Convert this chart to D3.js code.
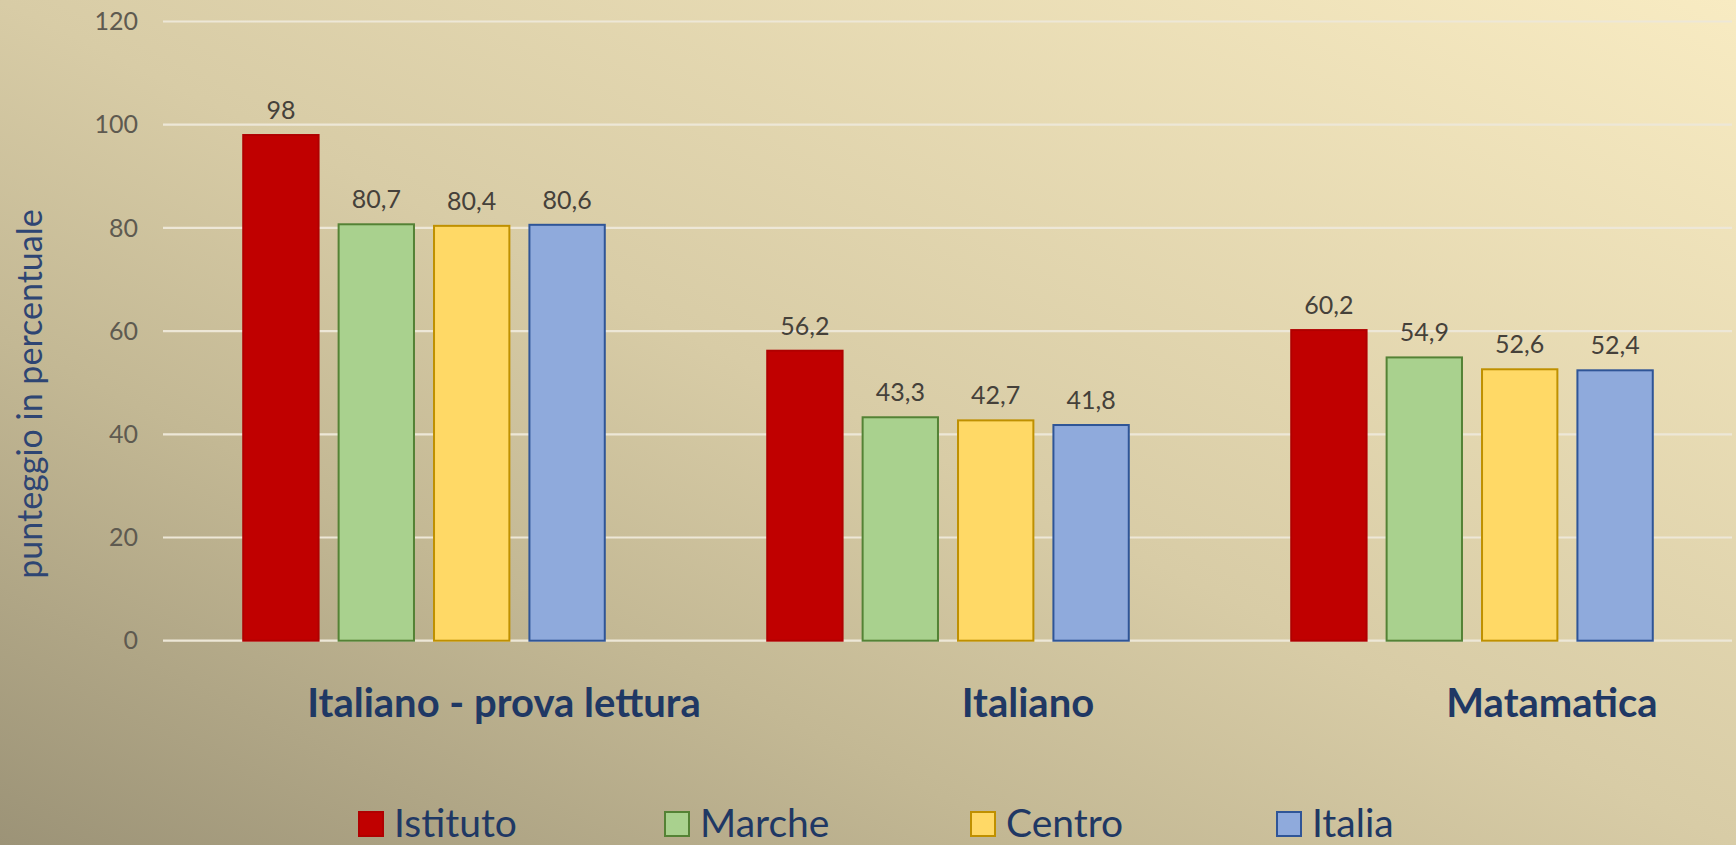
<!DOCTYPE html>
<html>
<head>
<meta charset="utf-8">
<script src="https://cdn.jsdelivr.net/npm/d3@7"></script>
<style>
  html, body { margin: 0; padding: 0; overflow: hidden; }
  svg { display: block; }
</style>
</head>
<body>
<div id="chart"></div>
<script>

// ===========================//
// DATA
// ===========================//

var subjects = ["Italiano - prova lettura", "Italiano", "Matamatica"]
var series = ["Istituto", "Marche", "Centro", "Italia"]

var istituto = [98, 56.2, 60.2]
var marche = [80.7, 43.3, 54.9]
var centro = [80.4, 42.7, 52.6]
var italia = [80.6, 41.8, 52.4]

var yTicks = [0, 20, 40, 60, 80, 100, 120]

var values = [istituto, marche, centro, italia]

// one row per bar
var data = []
subjects.forEach(function(s, i){
  series.forEach(function(k, j){
    data.push({subject: s, serie: k, value: values[j][i]})
  })
})


// ===========================//
// COLORS
// ===========================//

var fillColor = d3.scaleOrdinal()
  .domain(series)
  .range(["#C00000", "#A9D18E", "#FFD966", "#8FAADC"])

var strokeColor = d3.scaleOrdinal()
  .domain(series)
  .range(["#B00000", "#548235", "#BF9000", "#2F5597"])


// ===========================//
// SVG + BACKGROUND
// ===========================//

var width = 1736, height = 845

var svg = d3.select("#chart")
  .append("svg")
    .attr("width", width)
    .attr("height", height)

var grad = svg.append("defs")
  .append("linearGradient")
    .attr("id", "bg")
    .attr("x1", 0).attr("y1", 1)
    .attr("x2", 1).attr("y2", 0)

grad.append("stop").attr("offset", 0).attr("stop-color", "#9C9377")
grad.append("stop").attr("offset", 0.3).attr("stop-color", "#C3B894")
grad.append("stop").attr("offset", 0.5).attr("stop-color", "#D8CCA6")
grad.append("stop").attr("offset", 1).attr("stop-color", "#F8EBC2")

svg.append("rect")
  .attr("width", width)
  .attr("height", height)
  .attr("fill", "url(#bg)")


// ===========================//
// SCALES
// ===========================//

var y = d3.scaleLinear()
  .domain([0, 120])
  .range([640.7, 21.5])

var x0 = d3.scaleBand()
  .domain(subjects)
  .range([162, 1734])
  .paddingInner(0.31)
  .paddingOuter(0.155)

var x1 = d3.scaleBand()
  .domain(series)
  .range([0, x0.bandwidth()])
  .paddingInner(0.21)


// ===========================//
// GRID + Y AXIS
// ===========================//

svg.append("g")
  .selectAll("line")
  .data(yTicks)
  .enter()
  .append("line")
    .attr("x1", 163)
    .attr("x2", 1732)
    .attr("y1", function(d){ return y(d) })
    .attr("y2", function(d){ return y(d) })
    .attr("stroke", "#EDE7D7")
    .attr("stroke-width", 2.2)

svg.append("g")
  .selectAll("text")
  .data(yTicks)
  .enter()
  .append("text")
    .attr("x", 138)
    .attr("y", function(d){ return y(d) })
    .attr("dy", "0.35em")
    .attr("text-anchor", "end")
    .style("font-family", "Lato, sans-serif")
    .style("font-size", "25px")
    .style("fill", "#5E5A50")
    .text(function(d){ return d })

svg.append("text")
  .attr("transform", "translate(42,394) rotate(-90)")
  .attr("text-anchor", "middle")
  .style("font-family", "Lato, sans-serif")
  .style("font-size", "34px")
  .style("fill", "#2E4573")
  .text("punteggio in percentuale")


// ===========================//
// BARS
// ===========================//

var bars = svg.append("g")
  .selectAll("g")
  .data(data)
  .enter()
  .append("g")
    .attr("transform", function(d){ return "translate(" + x0(d.subject) + ",0)" })

bars.append("rect")
    .attr("x", function(d){ return x1(d.serie) })
    .attr("y", function(d){ return y(d.value) })
    .attr("width", x1.bandwidth())
    .attr("height", function(d){ return y(0) - y(d.value) })
    .attr("fill", function(d){ return fillColor(d.serie) })
    .attr("stroke", function(d){ return strokeColor(d.serie) })
    .attr("stroke-width", 2)

// value labels
bars.append("text")
    .attr("x", function(d){ return x1(d.serie) + x1.bandwidth() / 2 })
    .attr("y", function(d){ return y(d.value) - 16 })
    .attr("text-anchor", "middle")
    .style("font-family", "Lato, sans-serif")
    .style("font-size", "25px")
    .style("fill", "#45413A")
    .text(function(d){ return String(d.value).replace(".", ",") })


// ===========================//
// CATEGORY LABELS
// ===========================//

svg.append("g")
  .selectAll("text")
  .data(subjects)
  .enter()
  .append("text")
    .attr("x", function(d){ return x0(d) + x0.bandwidth() / 2 + 80 })
    .attr("y", 717)
    .attr("text-anchor", "middle")
    .style("font-family", "Lato, sans-serif")
    .style("font-weight", "bold")
    .style("font-size", "40px")
    .style("fill", "#1F3864")
    .text(function(d){ return d })


// ===========================//
// LEGEND
// ===========================//

var legendX = d3.scalePoint()
  .domain(series)
  .range([358, 358 + 3 * 306])

var legend = svg.append("g")
  .selectAll("g")
  .data(series)
  .enter()
  .append("g")
    .attr("transform", function(d){ return "translate(" + legendX(d) + ",811)" })

legend.append("rect")
    .attr("x", 1)
    .attr("y", 1)
    .attr("width", 24)
    .attr("height", 24)
    .attr("fill", function(d){ return fillColor(d) })
    .attr("stroke", function(d){ return strokeColor(d) })
    .attr("stroke-width", 2)

legend.append("text")
    .attr("x", 36)
    .attr("y", 26)
    .style("font-family", "Lato, sans-serif")
    .style("font-size", "39px")
    .style("fill", "#1F3864")
    .text(function(d){ return d })

</script>
</body>
</html>
